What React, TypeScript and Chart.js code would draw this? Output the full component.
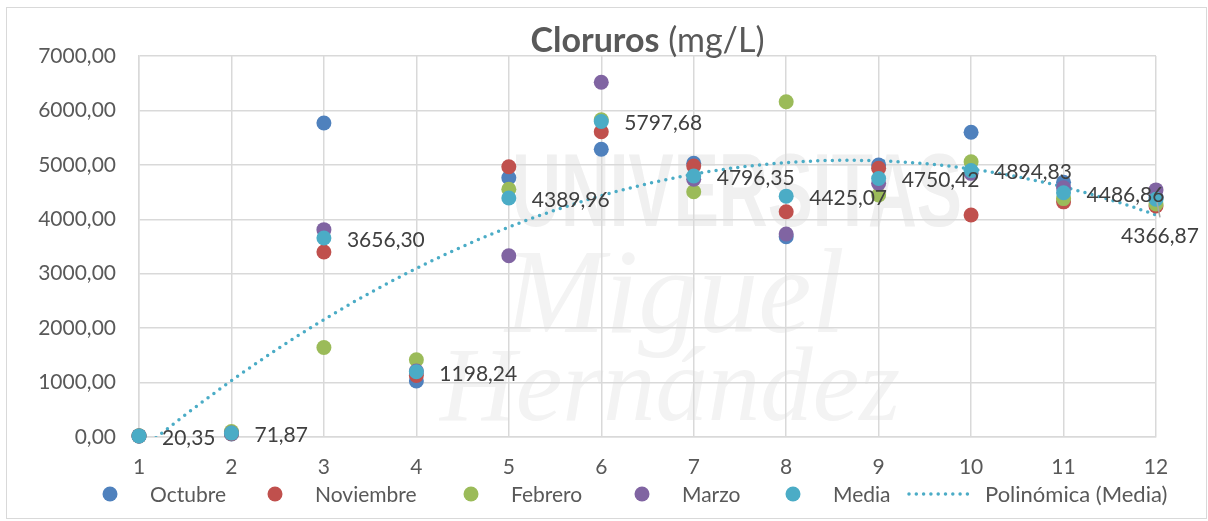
import React, { useEffect, useRef } from "react";
import { Chart, registerables } from "chart.js";
Chart.register(...registerables);

// ---- data ----
const months = [1, 2, 3, 4, 5, 6, 7, 8, 9, 10, 11, 12];
const octubre = [20, 55, 5770, 1030, 4764, 5286, 5028, 3680, 4997, 5598, 4680, 4400];
const noviembre = [20, 60, 3400, 1130, 4966, 5609, 4979, 4139, 4937, 4079, 4320, 4244];
const febrero = [21, 100, 1645, 1420, 4551, 5830, 4507, 6160, 4446, 5058, 4380, 4283];
const marzo = [20, 72, 3810, 1213, 3330, 6517, 4735, 3730, 4660, 4844, 4580, 4540];
const media = [20.35, 71.87, 3656.3, 1198.24, 4389.96, 5797.68, 4796.35, 4425.07, 4750.42, 4894.83, 4486.86, 4366.87];
const seriesNames = ["Octubre", "Noviembre", "Febrero", "Marzo", "Media"];
const trendName = "Polinómica (Media)";
const yTicks = [0, 1000, 2000, 3000, 4000, 5000, 6000, 7000];
const titleBold = "Cloruros";
const titleRest = " (mg/L)";

const colors = ["#4F81BD", "#C0504D", "#9BBB59", "#8064A2", "#4BACC6"];
const FONT = "Lato";
const fmt = (v: number) => v.toFixed(2).replace(".", ",");

// least-squares polynomial (order 2) trendline of the Media series, like Excel
function polyFit(xs: number[], ys: number[], deg: number): number[] {
  const n = deg + 1;
  const A: number[][] = [];
  for (let r = 0; r < n; r++) {
    const row: number[] = [];
    for (let c = 0; c < n; c++) row.push(xs.reduce((s, x) => s + Math.pow(x, r + c), 0));
    row.push(xs.reduce((s, x, i) => s + Math.pow(x, r) * ys[i], 0));
    A.push(row);
  }
  for (let i = 0; i < n; i++) {
    let p = i;
    for (let k = i + 1; k < n; k++) if (Math.abs(A[k][i]) > Math.abs(A[p][i])) p = k;
    [A[i], A[p]] = [A[p], A[i]];
    for (let k = i + 1; k < n; k++) {
      const f = A[k][i] / A[i][i];
      for (let j = i; j <= n; j++) A[k][j] -= f * A[i][j];
    }
  }
  const coef = new Array(n).fill(0);
  for (let i = n - 1; i >= 0; i--) {
    let s = A[i][n];
    for (let j = i + 1; j < n; j++) s -= A[i][j] * coef[j];
    coef[i] = s / A[i][i];
  }
  return coef;
}

const coef = polyFit(months, media, 2);
const trendPoints: { x: number; y: number }[] = [];
for (let k = 0; k <= 220; k++) {
  const x = months[0] + (k * (months[months.length - 1] - months[0])) / 220;
  trendPoints.push({ x, y: coef[0] + coef[1] * x + coef[2] * x * x });
}

const backgroundPlugin = {
  id: "bgWatermark",
  beforeDraw(chart: any) {
    const ctx = chart.ctx as CanvasRenderingContext2D;
    ctx.save();
    ctx.fillStyle = "#ffffff";
    ctx.fillRect(0, 0, chart.width, chart.height);
    // faint watermark
    ctx.fillStyle = "#f0f0f0";
    ctx.font = "bold 104px 'Liberation Sans'";
    ctx.textBaseline = "alphabetic";
    ctx.textAlign = "left";
    ctx.fillText("UNIVERSITAS", 512, 226, 450);
    ctx.fillStyle = "#f3f3f3";
    ctx.font = "italic 120px 'Liberation Serif'";
    ctx.fillText("Miguel", 505, 332, 350);
    ctx.font = "italic 105px 'Liberation Serif'";
    ctx.fillText("Hernández", 440, 420, 460);
    ctx.restore();
  },
};

const overlayPlugin = {
  id: "overlay",
  afterDatasetsDraw(chart: any) {
    const ctx = chart.ctx as CanvasRenderingContext2D;
    const xs = chart.scales.x;
    const ys = chart.scales.y;
    ctx.save();
    ctx.font = `21px ${FONT}`;
    ctx.fillStyle = "#404040";
    ctx.textBaseline = "middle";
    media.forEach((v, i) => {
      const px = xs.getPixelForValue(months[i]);
      const py = ys.getPixelForValue(v);
      if (i === media.length - 1) {
        ctx.strokeStyle = "#a6a6a6";
        ctx.lineWidth = 1.5;
        ctx.beginPath();
        ctx.moveTo(px + 1, py + 3);
        ctx.lineTo(px + 4, py + 18);
        ctx.stroke();
        ctx.textAlign = "center";
        ctx.fillText(fmt(v), px + 4, py + 37);
      } else {
        ctx.textAlign = "left";
        ctx.fillText(fmt(v), px + 23, py + 2);
      }
    });
    ctx.restore();
  },
  afterDraw(chart: any) {
    const ctx = chart.ctx as CanvasRenderingContext2D;
    const area = chart.chartArea;
    ctx.save();
    // title
    ctx.fillStyle = "#595959";
    ctx.textBaseline = "alphabetic";
    ctx.textAlign = "left";
    ctx.font = `bold 34px ${FONT}`;
    const w1 = ctx.measureText(titleBold).width;
    ctx.font = `34px ${FONT}`;
    const w2 = ctx.measureText(titleRest).width;
    const tx = (area.left + area.right) / 2 - (w1 + w2) / 2;
    ctx.font = `bold 34px ${FONT}`;
    ctx.fillText(titleBold, tx, 52);
    ctx.font = `34px ${FONT}`;
    ctx.fillText(titleRest, tx + w1, 52);

    // legend
    const ly = 494;
    const markerX = [110, 275, 471, 642, 793];
    ctx.font = `21px ${FONT}`;
    ctx.textBaseline = "middle";
    seriesNames.forEach((name, i) => {
      ctx.fillStyle = colors[i];
      ctx.beginPath();
      ctx.arc(markerX[i], ly, 7.5, 0, Math.PI * 2);
      ctx.fill();
      ctx.fillStyle = "#595959";
      ctx.fillText(name, markerX[i] + 40, ly + 1);
    });
    ctx.strokeStyle = colors[4];
    ctx.lineWidth = 3.5;
    ctx.lineCap = "round";
    ctx.setLineDash([0, 7.3]);
    ctx.beginPath();
    ctx.moveTo(909, ly);
    ctx.lineTo(972, ly);
    ctx.stroke();
    ctx.setLineDash([]);
    ctx.fillStyle = "#595959";
    ctx.font = `22px ${FONT}`;
    ctx.fillText(trendName, 985, ly + 1);

    // outer border
    ctx.strokeStyle = "#d9d9d9";
    ctx.lineWidth = 1;
    ctx.strokeRect(6.5, 7.5, 1200, 511);
    ctx.restore();
  },
};

export default function App() {
  const ref = useRef<HTMLCanvasElement>(null);
  useEffect(() => {
    let chart: Chart | null = null;
    let cancelled = false;
    const build = () => {
      if (cancelled || !ref.current) return;
      const seriesData = [octubre, noviembre, febrero, marzo, media];
      const datasets: any[] = seriesData.map((arr, i) => ({
        type: "scatter",
        label: seriesNames[i],
        data: months.map((m, j) => ({ x: m, y: arr[j] })),
        backgroundColor: colors[i],
        borderColor: colors[i],
        borderWidth: 0,
        pointRadius: 7.5,
        pointHoverRadius: 7.5,
        clip: false,
        order: 5 - i,
      }));
      datasets.push({
        type: "line",
        label: trendName,
        data: trendPoints,
        borderColor: colors[4],
        borderWidth: 3.5,
        borderDash: [0, 7.3],
        borderCapStyle: "round",
        pointRadius: 0,
        fill: false,
        tension: 0,
        clip: 0,
        order: 10,
      });
      chart = new Chart(ref.current, {
        type: "scatter",
        data: { datasets },
        plugins: [backgroundPlugin, overlayPlugin],
        options: {
          responsive: false,
          animation: false,
          devicePixelRatio: 1,
          events: [],
          layout: { padding: { top: 56, right: 52, left: 0, bottom: 0 } },
          plugins: {
            legend: { display: false },
            title: { display: false },
            tooltip: { enabled: false },
          },
          scales: {
            x: {
              type: "linear",
              min: 1,
              max: 12,
              afterFit: (s: any) => {
                s.height = 84;
              },
              ticks: {
                stepSize: 1,
                color: "#595959",
                font: { family: FONT, size: 21 },
                padding: 18,
                autoSkip: false,
                maxRotation: 0,
              },
              grid: { color: "#d9d9d9", lineWidth: 1.5, drawTicks: false },
              border: { color: "#d9d9d9", width: 1.5 },
            },
            y: {
              type: "linear",
              min: yTicks[0],
              max: yTicks[yTicks.length - 1],
              afterFit: (s: any) => {
                s.width = 139;
              },
              afterBuildTicks: (s: any) => {
                s.ticks = yTicks.map((v) => ({ value: v }));
              },
              ticks: {
                color: "#595959",
                font: { family: FONT, size: 21 },
                padding: 23,
                callback: (v: any) => fmt(Number(v)),
              },
              grid: { color: "#d9d9d9", lineWidth: 1.5, drawTicks: false },
              border: { color: "#d9d9d9", width: 1.5 },
            },
          },
        } as any,
      } as any);
    };
    const fonts: any = (document as any).fonts;
    if (fonts && fonts.load) {
      Promise.all([
        fonts.load(`21px ${FONT}`),
        fonts.load(`bold 34px ${FONT}`),
        fonts.load(`34px ${FONT}`),
        fonts.load("bold 104px 'Liberation Sans'"),
        fonts.load("italic 120px 'Liberation Serif'"),
      ]).then(build, build);
    } else build();
    return () => {
      cancelled = true;
      if (chart) chart.destroy();
    };
  }, []);
  return (
    <div style={{ position: "absolute", left: 0, top: 0, width: 1208, height: 521 }}>
      <canvas ref={ref} width={1208} height={521} style={{ display: "block", width: 1208, height: 521 }} />
    </div>
  );
}
